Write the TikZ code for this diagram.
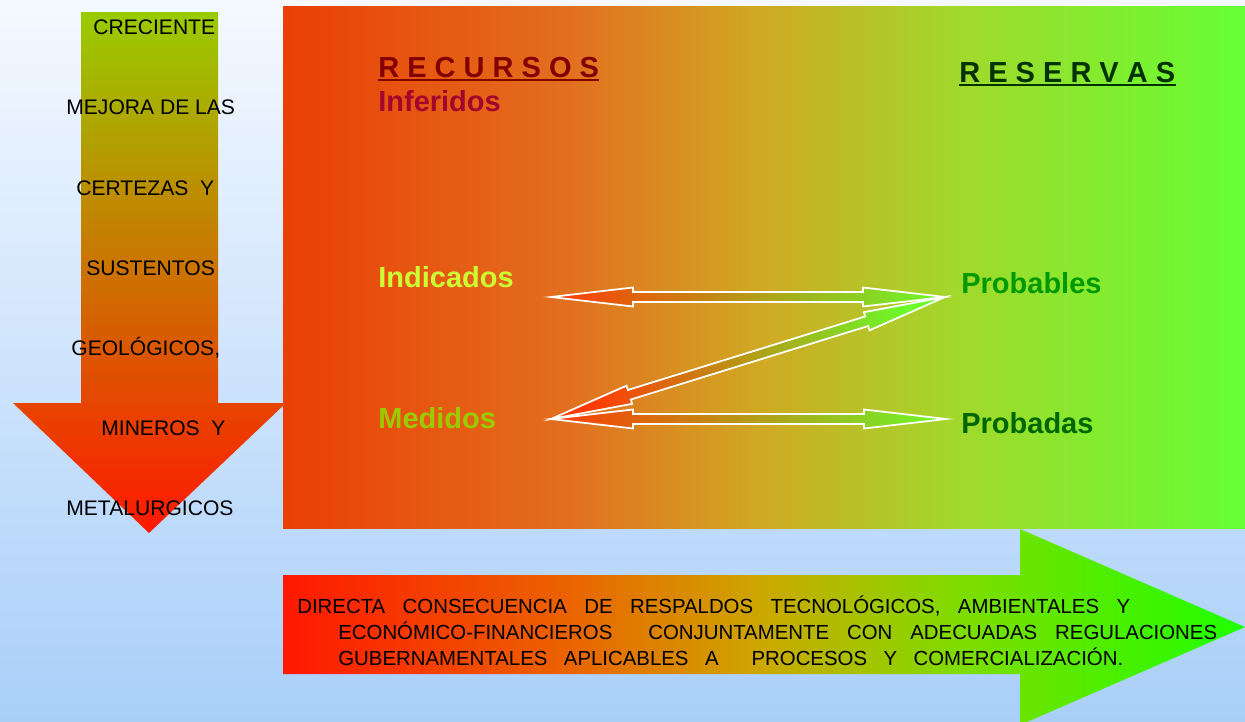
\documentclass[tikz,border=0pt]{standalone}
\usepackage{tikz}
\usepackage{xcolor}
\usepackage{fontspec}
\setmainfont{Liberation Sans}
\usetikzlibrary{calc}

\definecolor{cielo-a}{HTML}{F5F9FF}
\definecolor{cielo-b}{HTML}{A9CFF9}
\definecolor{baja-a}{HTML}{99CC00}
\definecolor{baja-m}{HTML}{D89A00}
\definecolor{baja-b}{HTML}{FF1800}
\definecolor{flecha-a}{HTML}{FF3A05}
\definecolor{flecha-m}{HTML}{E0A828}
\definecolor{flecha-b}{HTML}{6CFA2A}
\definecolor{recursos}{HTML}{820000}
\definecolor{inferidos}{HTML}{A3062C}
\definecolor{reservas}{HTML}{003300}
\definecolor{indicados}{HTML}{CCFF33}
\definecolor{medidos}{HTML}{99CC00}
\definecolor{probables}{HTML}{009900}
\definecolor{probadas}{HTML}{006600}

\pgfdeclarehorizontalshading{caja}{100bp}{color(0bp)=(rgb,255:red,234;green,63;blue,5);
  color(25bp)=(rgb,255:red,234;green,63;blue,5);
  color(40bp)=(rgb,255:red,226;green,112;blue,32);
  color(50bp)=(rgb,255:red,207;green,170;blue,34);
  color(60bp)=(rgb,255:red,162;green,216;blue,44);
  color(75bp)=(rgb,255:red,102;green,255;blue,51);
  color(100bp)=(rgb,255:red,102;green,255;blue,51)}
\pgfdeclarehorizontalshading{pie}{100bp}{color(0bp)=(rgb,255:red,255;green,24;blue,0);
  color(25bp)=(rgb,255:red,255;green,24;blue,0);
  color(40bp)=(rgb,255:red,234;green,100;blue,0);
  color(50bp)=(rgb,255:red,204;green,168;blue,0);
  color(60bp)=(rgb,255:red,128;green,220;blue,0);
  color(75bp)=(rgb,255:red,30;green,255;blue,0);
  color(100bp)=(rgb,255:red,30;green,255;blue,0)}

\begin{document}
\begin{tikzpicture}[x=0.02cm, y=-0.02cm]

\tikzset{
    flecha/.style = {
    draw=white, line width=1pt,
    left color=flecha-a, middle color=flecha-m, right color=flecha-b,
    to path={
     -- ($(\tikztostart)!1.64cm!(\tikztotarget)!0.19cm!90:(\tikztotarget)$)
     -- ($(\tikztostart)!1.64cm!(\tikztotarget)!0.1cm!90:(\tikztotarget)$)
     -- ($(\tikztotarget)!1.64cm!(\tikztostart)!0.1cm!-90:(\tikztostart)$)
     -- ($(\tikztotarget)!1.64cm!(\tikztostart)!0.19cm!-90:(\tikztostart)$)
     -- (\tikztotarget)
     -- ($(\tikztotarget)!1.64cm!(\tikztostart)!0.19cm!90:(\tikztostart)$)
     -- ($(\tikztotarget)!1.64cm!(\tikztostart)!0.1cm!90:(\tikztostart)$)
     -- ($(\tikztostart)!1.64cm!(\tikztotarget)!0.1cm!-90:(\tikztotarget)$)
     -- ($(\tikztostart)!1.64cm!(\tikztotarget)!0.19cm!-90:(\tikztotarget)$)
     -- cycle}
    }
}

\tikzstyle{rotulo}=[font=\bfseries\fontsize{16.5}{20}\selectfont, inner sep=0pt, anchor=base west]
\tikzstyle{lado}=[font=\fontsize{12}{14}\selectfont, inner sep=0pt, anchor=base west]
\tikzstyle{pie}=[font=\fontsize{11.6}{14}\selectfont, inner sep=0pt, anchor=base west]

\clip (0,0) rectangle (1245,721);
\shade[top color=cielo-a, bottom color=cielo-b] (0,0) rectangle (1245,721);

\shade[shading=caja] (283,6) rectangle (1245,528);

\shade[top color=baja-a, middle color=baja-m, bottom color=baja-b]
  (81,12) -- (218,12) -- (218,403) -- (286,403) -- (149,533) -- (13,403) -- (81,403) -- cycle;

\shade[shading=pie]
  (283,575) -- (1020,575) -- (1020,529) -- (1245,627) -- (1020,725) -- (1020,674) -- (283,674) -- cycle;

\node (t-1) [lado] at (93,34) {CRECIENTE};
\node (t-2) [lado] at (66,114) {MEJORA DE LAS};
\node (t-3) [lado] at (76,195) {CERTEZAS\ \ Y};
\node (t-4) [lado] at (86,275) {SUSTENTOS};
\node (t-5) [lado] at (71,355) {GEOLÓGICOS,};
\node (t-6) [lado] at (101,435) {MINEROS\ \ Y};
\node (t-7) [lado] at (66,515) {METALURGICOS};

\node (rec) [rotulo, recursos] at (378,77) {R E C U R S O S};
\node (inf) [rotulo, inferidos] at (378,111) {Inferidos};
\node (res) [rotulo, reservas] at (959,82) {R E S E R V A S};
\node (ind) [rotulo, indicados] at (378,287) {Indicados};
\node (med) [rotulo, medidos] at (378,428) {Medidos};
\node (prb) [rotulo, probables] at (961,293) {Probables};
\node (pda) [rotulo, probadas] at (961,433) {Probadas};

\draw[recursos, line width=1pt] ($(rec.base west)+(0,3)$) -- ($(rec.base east)+(0,3)$);
\draw[reservas, line width=1.2pt] ($(res.base west)+(0,3)$) -- ($(res.base east)+(0,3)$);

\coordinate (p-ind) at (551,297);
\coordinate (p-med) at (551,419);
\coordinate (p-prb) at (945,297);
\coordinate (p-pda) at (946,419);

\draw[flecha] (p-ind) to (p-prb);
\draw[flecha] (p-med) to (p-pda);
\draw[flecha, shading angle=107.6] (p-med) to (p-prb);

\node (d-1) [pie] at (297,613) {\makebox[16.66cm][s]{DIRECTA CONSECUENCIA DE RESPALDOS TECNOLÓGICOS, AMBIENTALES Y}};
\node (d-2) [pie] at (338,639) {\makebox[17.58cm][s]{ECONÓMICO-FINANCIEROS\ \ CONJUNTAMENTE CON ADECUADAS REGULACIONES}};
\node (d-3) [pie] at (338,665) {\makebox[15.7cm][s]{GUBERNAMENTALES APLICABLES A\ \ PROCESOS Y COMERCIALIZACIÓN.}};

\end{tikzpicture}
\end{document}
